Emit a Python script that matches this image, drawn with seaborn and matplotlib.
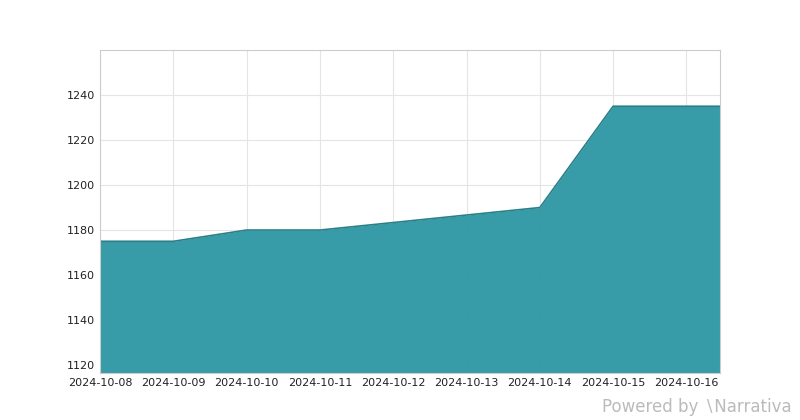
import pandas as pd
import seaborn as sns
import matplotlib.pyplot as plt
import matplotlib.dates as mdates

dates = ["2024-10-08 00:00", "2024-10-09 00:00", "2024-10-10 00:00", "2024-10-11 00:00",
         "2024-10-14 00:00", "2024-10-15 00:00", "2024-10-16 00:00", "2024-10-16 11:00"]
values = [1175, 1175, 1180, 1180, 1190, 1235, 1235, 1235]

df = pd.DataFrame({"date": pd.to_datetime(dates, format="%Y-%m-%d %H:%M"), "value": values})

sns.set_style("whitegrid")
fig = plt.figure(figsize=(8, 4.2), dpi=100)
ax = fig.add_axes([0.125, 0.112, 0.775, 0.769])

sns.lineplot(data=df, x="date", y="value", color="#2a8088", linewidth=1.2, ax=ax)
ax.fill_between(df["date"], df["value"], 1100, color="#3399a6", alpha=0.98, linewidth=0)

ax.set_xlim(df["date"].iloc[0], df["date"].iloc[-1])
ax.set_ylim(1116.5, 1260)
ax.set_yticks(range(1120, 1241, 20))
ax.xaxis.set_major_locator(mdates.DayLocator())
ax.xaxis.set_major_formatter(mdates.DateFormatter("%Y-%m-%d"))
ax.set_xlabel("")
ax.set_ylabel("")
ax.tick_params(labelsize=8, colors="#222222", length=0)
ax.grid(color="#e5e5e5", linewidth=0.8)
for s in ax.spines.values():
    s.set_color("#cccccc")

fig.text(0.99, 0.01, "Powered by \u2216Narrativa", ha="right", va="bottom",
         fontsize=12, color="#bbbbbb")

fig.savefig("out.png")
